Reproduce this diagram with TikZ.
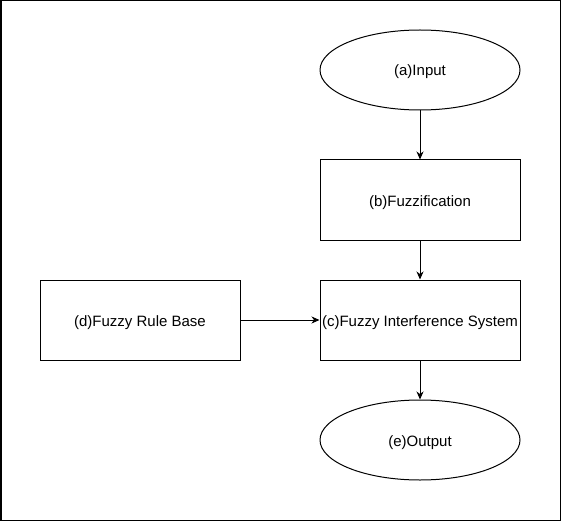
\documentclass[tikz,border=0pt]{standalone}
\usepackage{fontspec}
\setmainfont{Liberation Sans}
\usetikzlibrary{shapes.geometric,arrows.meta}
\begin{document}
\begin{tikzpicture}[x=1pt,y=-1pt,
  every node/.style={font=\fontsize{15}{18}\selectfont, inner sep=0pt, line width=1pt, text height=12pt, text depth=0pt},
  boxnode/.style={draw, rectangle, minimum width=200pt, minimum height=80pt},
  ovalnode/.style={draw, ellipse, minimum width=200pt, minimum height=80pt},
  conn/.style={line width=1pt, -{Stealth[length=8pt,width=7pt,inset=2.5pt]}}]
\useasboundingbox (0,0) rectangle (561,521);
\draw[line width=1.5pt] (0.75,0.75) rectangle (560.25,520.25);
\node[ovalnode] (a) at (420,70) {(a)Input};
\node[boxnode] (b) at (420,200) {(b)Fuzzification};
\node[boxnode] (c) at (420,320) {(c)Fuzzy Interference System};
\node[boxnode] (d) at (140,320) {(d)Fuzzy Rule Base};
\node[ovalnode] (e) at (420,440) {(e)Output};
\draw[conn] (a) -- (b);
\draw[conn] (b) -- (c);
\draw[conn] (d) -- (c);
\draw[conn] (c) -- (e);
\end{tikzpicture}
\end{document}
